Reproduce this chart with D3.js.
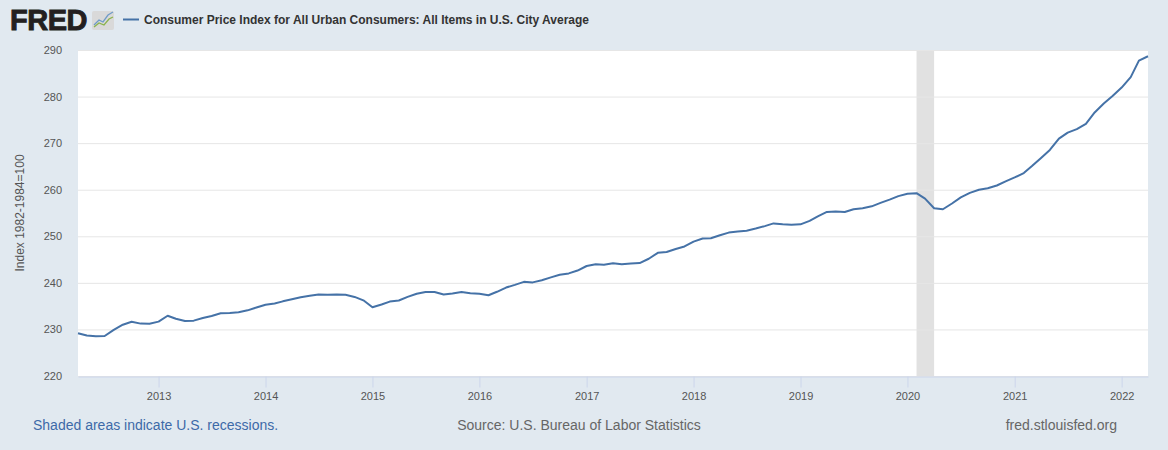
<!DOCTYPE html>
<html><head>
<meta charset="utf-8">
<title>CPIAUCSL</title>
<script src="https://cdn.jsdelivr.net/npm/d3@7/dist/d3.min.js"></script>
<style>
  body { margin: 0; background: #e1e9f0; }
  svg { display: block; font-family: "Liberation Sans", Arial, sans-serif; }
  .grid line { stroke: #e6e6e6; stroke-width: 1; }
  .x-axis path { stroke: #ccd6eb; }
  .x-axis line { stroke: #ccd6eb; }
  .x-axis text, .y-axis text { fill: #555; font-size: 11px; }
  .cpi-path { fill: none; stroke: #4572a7; stroke-width: 2; stroke-linejoin: round; }
</style>
</head>
<body>
<svg id="chart" width="1168" height="450"></svg>

<script type="text/javascript">

// monthly CPI, Apr 2012 .. Apr 2022 (index 1982-1984=100)
var startMonth = "2012-04"
var cpiValues = [
  229.19, 228.71, 228.52, 228.59, 229.92, 231.02, 231.64, 231.25, 231.22,
  231.68, 232.94, 232.28, 231.80, 231.89, 232.45, 232.90, 233.46, 233.54, 233.67, 234.10, 234.72,
  235.29, 235.55, 236.03, 236.47, 236.92, 237.23, 237.50, 237.46, 237.48, 237.43, 236.98, 236.25,
  234.75, 235.34, 235.98, 236.22, 237.00, 237.66, 238.03, 238.03, 237.50, 237.73, 238.02, 237.76,
  237.65, 237.34, 238.08, 238.99, 239.56, 240.22, 240.10, 240.55, 241.18, 241.74, 242.03, 242.64,
  243.62, 244.01, 243.89, 244.19, 244.00, 244.16, 244.24, 245.18, 246.44, 246.63, 247.28, 247.81,
  248.86, 249.53, 249.58, 250.23, 250.79, 251.02, 251.21, 251.66, 252.18, 252.77, 252.59, 252.47,
  252.56, 253.32, 254.28, 255.23, 255.30, 255.21, 255.80, 256.04, 256.43, 257.16, 257.88, 258.63,
  259.13, 259.25, 258.08, 256.03, 255.80, 257.04, 258.35, 259.32, 260.00, 260.32, 260.91, 261.79,
  262.64, 263.57, 265.07, 266.83, 268.55, 270.98, 272.27, 273.01, 274.14, 276.59, 278.52, 280.13,
  281.93, 284.18, 287.71, 288.66
]
var recessions = [ ["2020-02", "2020-04"] ]
var yTicks = [220, 230, 240, 250, 260, 270, 280, 290]
var xTickYears = [2013, 2014, 2015, 2016, 2017, 2018, 2019, 2020, 2021, 2022]

var parseMonth = d3.timeParse("%Y-%m")
var first = parseMonth(startMonth)
var cpi = cpiValues.map(function(v, i) {
  return { date: d3.timeMonth.offset(first, i), value: v }
})

var svg = d3.select("#chart")

// plot box ("top" is taken by window, so prefixed names)
var plotLeft = 78, plotRight = 1148, plotTop = 50, plotBottom = 376

var xScale = d3.scaleTime()
  .domain([cpi[0].date, cpi[cpi.length - 1].date])
  .range([plotLeft, plotRight])

var yScale = d3.scaleLinear()
  .domain([220, 290])
  .range([plotBottom, plotTop])

// header: logo + legend
var logo = svg.append("g")
logo.append("text")
  .attr("x", 10).attr("y", 30)
  .attr("font-size", 29).attr("font-weight", "bold")
  .attr("letter-spacing", -0.5)
  .attr("fill", "#231f20")
  .attr("stroke", "#231f20").attr("stroke-width", 0.9)
  .text("FRED")
logo.append("rect")
  .attr("x", 92).attr("y", 11).attr("width", 22).attr("height", 19)
  .attr("rx", 2).attr("fill", "#d9d9d9")
logo.append("path")
  .attr("d", "M94,25 L99,20 L103,22 L108,15 L113,12")
  .attr("fill", "none").attr("stroke", "#6f9bc8").attr("stroke-width", 1.3)
logo.append("path")
  .attr("d", "M94,27 L99,23 L104,25 L109,19 L113,17")
  .attr("fill", "none").attr("stroke", "#8bb34d").attr("stroke-width", 1.3)

svg.append("line")
  .attr("x1", 123).attr("x2", 139).attr("y1", 19.5).attr("y2", 19.5)
  .attr("stroke", "#4572a7").attr("stroke-width", 2)
svg.append("text")
  .attr("x", 144).attr("y", 24)
  .attr("font-size", 12).attr("font-weight", "bold").attr("fill", "#333")
  .text("Consumer Price Index for All Urban Consumers: All Items in U.S. City Average")

// plot background
svg.append("rect")
  .attr("x", plotLeft).attr("y", plotTop)
  .attr("width", plotRight - plotLeft).attr("height", plotBottom - plotTop)
  .attr("fill", "#ffffff")

// recession shading
svg.selectAll(".recession")
  .data(recessions)
  .enter().append("rect")
  .classed("recession", true)
  .attr("x", function(d) { return xScale(parseMonth(d[0])) })
  .attr("width", function(d) { return xScale(parseMonth(d[1])) - xScale(parseMonth(d[0])) })
  .attr("y", plotTop).attr("height", plotBottom - plotTop)
  .attr("fill", "#e1e1e1")

// horizontal grid
var yGrid = d3.axisLeft(yScale).tickValues(yTicks).tickSize(-(plotRight - plotLeft)).tickFormat("")
svg.append("g").classed("grid", true)
  .attr("transform", "translate(" + plotLeft + ",0)")
  .call(yGrid)
  .call(function(g) { g.select(".domain").remove() })

// y axis labels
var yAxis = d3.axisLeft(yScale).tickValues(yTicks).tickSize(0).tickPadding(16)
svg.append("g").classed("y-axis", true)
  .attr("transform", "translate(" + plotLeft + ",0)")
  .call(yAxis)
  .call(function(g) { g.select(".domain").remove() })

// x axis
var xAxis = d3.axisBottom(xScale)
  .tickValues(xTickYears.map(function(y) { return new Date(y, 0, 1) }))
  .tickFormat(d3.timeFormat("%Y"))
  .tickSize(11).tickPadding(5).tickSizeOuter(0)
svg.append("g").classed("x-axis", true)
  .attr("transform", "translate(0," + (plotBottom + 0.5) + ")")
  .call(xAxis)

svg.append("text")
  .attr("transform", "translate(24," + ((plotTop + plotBottom) / 2) + ") rotate(-90)")
  .attr("text-anchor", "middle")
  .attr("font-size", 12).attr("fill", "#555")
  .text("Index 1982-1984=100")

// the series
var line = d3.line()
  .x(function(d) { return xScale(d.date) })
  .y(function(d) { return yScale(d.value) })

svg.append("path")
  .datum(cpi)
  .classed("cpi-path", true)
  .attr("d", line)

// footer
svg.append("text")
  .attr("x", 33).attr("y", 430)
  .attr("font-size", 14).attr("fill", "#3d6aa8")
  .text("Shaded areas indicate U.S. recessions.")
svg.append("text")
  .attr("x", 579).attr("y", 430).attr("text-anchor", "middle")
  .attr("font-size", 14).attr("fill", "#666")
  .text("Source: U.S. Bureau of Labor Statistics")
svg.append("text")
  .attr("x", 1117).attr("y", 430).attr("text-anchor", "end")
  .attr("font-size", 14).attr("fill", "#666")
  .text("fred.stlouisfed.org")

</script>
</body>
</html>
